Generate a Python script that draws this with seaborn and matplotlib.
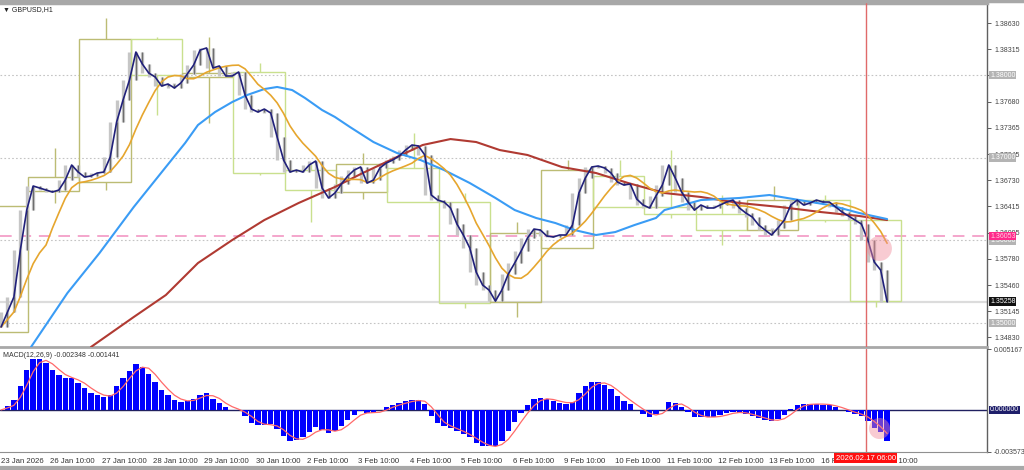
import matplotlib
matplotlib.use("Agg")
import matplotlib.pyplot as plt
from matplotlib.lines import Line2D
from matplotlib.patches import Rectangle
import matplotlib.transforms as mtransforms
import numpy as np
import pandas as pd
import seaborn as sns

sns.set_style("white")
plt.rcParams['font.family'] = ['Liberation Sans', 'DejaVu Sans']

# GBPUSD H1 closes, read every 3rd bar (23 Jan 11:00 -> 17 Feb 17:00)
close = [1.34952, 1.35133, 1.35315, 1.35883, 1.36367, 1.36658, 1.36634, 1.36609, 1.36585, 1.36609,
         1.36730, 1.36912, 1.36827, 1.36767, 1.36779, 1.36815, 1.36827, 1.37009, 1.37432, 1.37698,
         1.37940, 1.38279, 1.38134, 1.38025, 1.37977, 1.37868, 1.37892, 1.37844, 1.37904, 1.38013,
         1.38122, 1.38303, 1.38328, 1.38086, 1.38110, 1.37989, 1.37989, 1.38037, 1.37759, 1.37589,
         1.37553, 1.37589, 1.37541, 1.37251, 1.36972, 1.36827, 1.36851, 1.36827, 1.36912, 1.36960,
         1.36634, 1.36513, 1.36573, 1.36682, 1.36779, 1.36851, 1.36888, 1.36694, 1.36730, 1.36876,
         1.36936, 1.36972, 1.37021, 1.37093, 1.37154, 1.37142, 1.37033, 1.36549, 1.36488, 1.36464,
         1.36392, 1.36198, 1.36065, 1.35908, 1.35617, 1.35460, 1.35399, 1.35266, 1.35399, 1.35593,
         1.35726, 1.35871, 1.36029, 1.36137, 1.36125, 1.36053, 1.36041, 1.36065, 1.36065, 1.36186,
         1.36573, 1.36755, 1.36888, 1.36900, 1.36876, 1.36815, 1.36706, 1.36670, 1.36682, 1.36500,
         1.36428, 1.36392, 1.36537, 1.36670, 1.36912, 1.36755, 1.36585, 1.36464, 1.36367, 1.36428,
         1.36392, 1.36392, 1.36428, 1.36464, 1.36488, 1.36392, 1.36331, 1.36283, 1.36186, 1.36125,
         1.36065, 1.36150, 1.36246, 1.36428, 1.36488, 1.36428, 1.36452, 1.36488, 1.36464, 1.36464,
         1.36404, 1.36343, 1.36295, 1.36246, 1.36198, 1.36004, 1.35738, 1.35641, 1.35258]
step = 3

# daily candles drawn as boxes (23 Jan .. 17 Feb)
day_open = [1.34891, 1.36597, 1.36706, 1.38436, 1.37977, 1.38037, 1.36851, 1.36585, 1.36876,
            1.36464, 1.35254, 1.35908, 1.36779, 1.36404, 1.36319, 1.36125, 1.36488, 1.36246]
day_high = [1.36416, 1.37118, 1.38691, 1.38461, 1.38461, 1.38146, 1.36924, 1.37057, 1.37299,
            1.36573, 1.36222, 1.36972, 1.36972, 1.37094, 1.36549, 1.36658, 1.36549, 1.36246]
day_low = [1.34891, 1.36452, 1.36609, 1.37517, 1.37420, 1.36791, 1.36222, 1.36500, 1.36464,
           1.35182, 1.35073, 1.35908, 1.36404, 1.36271, 1.35944, 1.36101, 1.36222, 1.35194]
day_close = [1.36416, 1.36767, 1.38436, 1.38001, 1.38025, 1.36815, 1.36609, 1.36924, 1.36464,
             1.35242, 1.36089, 1.36851, 1.36404, 1.36319, 1.36125, 1.36488, 1.36246, 1.35266]

# slow moving averages (bar index, price)
ma100_bar = [14, 31, 46, 62, 77, 86, 92, 100, 108, 115, 123, 129, 136, 142, 150, 156, 163, 174, 185, 196,
             207, 219, 231, 240, 250, 259, 268, 278, 287, 296, 306, 310, 327, 345, 359, 373, 387, 401, 414]
ma100_val = [1.34710, 1.35363, 1.35847, 1.36404, 1.36888, 1.37178, 1.37396, 1.37553, 1.37674, 1.37759,
             1.37831, 1.37856, 1.37819, 1.37723, 1.37577, 1.37493, 1.37372, 1.37190, 1.37057, 1.36972,
             1.36851, 1.36694, 1.36513, 1.36367, 1.36271, 1.36210, 1.36125, 1.36065, 1.36101, 1.36186,
             1.36271, 1.36367, 1.36488, 1.36513, 1.36549, 1.36488, 1.36428, 1.36331, 1.36258]
ma200_bar = [42, 62, 77, 92, 108, 123, 139, 156, 169, 185, 197, 210, 222, 233, 246, 262, 278, 293,
             310, 327, 345, 364, 383, 401, 414]
ma200_val = [1.34710, 1.35073, 1.35339, 1.35726, 1.36004, 1.36246, 1.36452, 1.36646, 1.36815, 1.37009,
             1.37154, 1.37226, 1.37190, 1.37093, 1.37033, 1.36888, 1.36815, 1.36694, 1.36573, 1.36525,
             1.36452, 1.36404, 1.36343, 1.36295, 1.36246]

xlabels = ["23 Jan 2026", "26 Jan 10:00", "27 Jan 10:00", "28 Jan 10:00", "29 Jan 10:00",
           "30 Jan 10:00", "2 Feb 10:00", "3 Feb 10:00", "4 Feb 10:00", "5 Feb 10:00",
           "6 Feb 10:00", "9 Feb 10:00", "10 Feb 10:00", "11 Feb 10:00", "12 Feb 10:00",
           "13 Feb 10:00", "16 Feb 10:00", "17 Feb 10:00"]
xticks = [0] + [23 + 24 * k for k in range(17)]
yticks = [1.38630, 1.38315, 1.38000, 1.37680, 1.37365, 1.37045, 1.36730, 1.36415,
          1.36095, 1.35780, 1.35460, 1.35145, 1.34830]
levels = [1.38, 1.37, 1.36, 1.35]
last_price = 1.35258
alert_price = 1.36053
cursor_bar = 404
cursor_label = "2026.02.17 06:00"
macd_text = "MACD(12,26,9) -0.002348 -0.001441"

# ---- derived series ----------------------------------------------------
df = pd.DataFrame({'bar': np.arange(len(close)) * step, 'close': close})
c = df['close']
prev = c.shift(1).fillna(c)
nxt = c.shift(-1).fillna(c)
df['lo'] = np.minimum(np.minimum(prev, c), nxt)
df['hi'] = np.maximum(np.maximum(prev, c), nxt)
df['body_lo'] = np.minimum(prev, c)
df['body_hi'] = np.maximum(prev, c)
df['ma24'] = c.rolling(8, min_periods=1).mean()
a12 = 1 - (1 - 2 / 13) ** step
a26 = 1 - (1 - 2 / 27) ** step
df['macd'] = c.ewm(alpha=a12, adjust=False).mean() - c.ewm(alpha=a26, adjust=False).mean()
df['signal'] = df['macd'].rolling(3, min_periods=1).mean()

# ---- figure ------------------------------------------------------------
fig = plt.figure(figsize=(10.24, 4.7), dpi=100)
ax = fig.add_axes([0, 0.2617, 0.9639, 0.7319])
ax2 = fig.add_axes([0, 0.0383, 0.9639, 0.2191])
xmin, xmax = -0.5, 460.7
ymin, ymax = 1.34710, 1.38872

# levels and horizontal lines
for lv in levels:
    ax.axhline(lv, color='#c4c4c4', lw=0.8, ls=(0, (1.5, 2)), zorder=1)
ax.axhline(alert_price, color='#f4a6cc', lw=1.4, ls=(0, (6, 4)), zorder=1)
ax.axhline(last_price, color='#dcdcdc', lw=1.6, zorder=1)

# daily boxes
for d in range(len(day_open)):
    x0 = 24 * d - 11 - 0.5
    xc = 24 * d + 1
    o, h, l, cl = day_open[d], day_high[d], day_low[d], day_close[d]
    col = '#bcbc74' if cl >= o else '#c9e08e'
    ax.add_patch(Rectangle((x0, min(o, cl)), 24, abs(cl - o), fill=False,
                           edgecolor=col, lw=1.0, zorder=2))
    ax.vlines(xc, max(o, cl), h, color=col, lw=1.0, zorder=2)
    ax.vlines(xc, l, min(o, cl), color=col, lw=1.0, zorder=2)

# price bars
ax.vlines(df['bar'], df['lo'], df['hi'], color='#c6c6c6', lw=2.4, zorder=3)
ax.vlines(df['bar'], df['body_lo'], df['body_hi'], color='#6e6e6e', lw=0.9, zorder=3)

# moving averages
sns.lineplot(x=ma200_bar, y=ma200_val, color='#b03a32', lw=1.5, ax=ax, zorder=4)
sns.lineplot(x=ma100_bar, y=ma100_val, color='#3a9cf5', lw=1.5, ax=ax, zorder=4)
sns.lineplot(data=df, x='bar', y='ma24', color='#e6a62e', lw=1.2, ax=ax, zorder=5)
sns.lineplot(data=df, x='bar', y='close', color='#20207a', lw=1.2, ax=ax, zorder=6)

# cursor and highlight
ax.axvline(cursor_bar, color='#e06a6a', lw=1.0, zorder=7)
ax.scatter([410], [1.35908], s=320, color='#f08c9c', alpha=0.45, lw=0, zorder=8)

ax.set_xlim(xmin, xmax)
ax.set_ylim(ymin, ymax)
ax.set_xticks([])
ax.set_xlabel('')
ax.set_ylabel('')
ax.yaxis.tick_right()
ax.set_yticks(yticks)
# the level boxes already carry 1.38000
ax.set_yticklabels(['' if abs(v - 1.38) < 1e-9 else f"{v:.5f}" for v in yticks])
ax.tick_params(axis='y', length=3, width=0.6, labelsize=5, pad=2, colors='#444444')
ax.spines['left'].set_visible(False)
ax.spines['top'].set_color('#a8a8a8')
ax.spines['top'].set_linewidth(2.5)
ax.spines['bottom'].set_color('#a8a8a8')
ax.spines['bottom'].set_linewidth(2.0)
ax.spines['right'].set_color('#606060')
ax.spines['right'].set_linewidth(1.0)

ytr = ax.get_yaxis_transform()
box = dict(boxstyle='square,pad=0.12', ec='none')
for lv in levels:
    ax.text(1.003, lv, f"{lv:.5f}", transform=ytr, fontsize=5, color='white', va='center', ha='left',
            bbox=dict(box, fc='#b4b4b4'), zorder=10)
ax.text(1.003, alert_price, f"{alert_price:.5f}", transform=ytr, fontsize=5, color='#ffd0e4',
        va='center', ha='left', bbox=dict(box, fc='#ff2a8a'), zorder=11)
ax.text(1.003, last_price, f"{last_price:.5f}", transform=ytr, fontsize=5, color='white',
        va='center', ha='left', bbox=dict(box, fc='#111111'), zorder=11)
ax.text(0.003, 0.99, "\u25bc GBPUSD,H1", transform=ax.transAxes, fontsize=5, color='#222222',
        va='top', ha='left')

# ---- MACD panel --------------------------------------------------------
ax2.axhline(0, color='#202060', lw=1.0, zorder=1)
ax2.bar(df['bar'], df['macd'], width=2.5, color='#0000ff', lw=0, zorder=2)
sns.lineplot(data=df, x='bar', y='signal', color='#ff6a6a', lw=0.9, ax=ax2, zorder=3)
ax2.axvline(cursor_bar, color='#e06a6a', lw=1.0, zorder=4)
ax2.scatter([410], [-0.0015], s=230, color='#f08c9c', alpha=0.45, lw=0, zorder=5)

ax2.set_xlim(xmin, xmax)
ax2.set_ylim(-0.003573, 0.005167)
ax2.set_xlabel('')
ax2.set_ylabel('')
ax2.yaxis.tick_right()
ax2.set_yticks([0.005167, -0.003573])
ax2.set_yticklabels(["0.005167", "-0.003573"])
ax2.tick_params(axis='y', length=3, width=0.6, labelsize=5, pad=2, colors='#444444')
ax2.set_xticks(xticks)
ax2.set_xticklabels(xlabels)
for lab in ax2.get_xticklabels():
    lab.set_ha('left')
ax2.tick_params(axis='x', length=3, width=0.6, labelsize=5.6, pad=1.5, colors='#333333')
ax2.spines['left'].set_visible(False)
ax2.spines['top'].set_visible(False)
ax2.spines['bottom'].set_color('#909090')
ax2.spines['right'].set_color('#606060')
ax2.spines['right'].set_linewidth(1.0)

ytr2 = ax2.get_yaxis_transform()
ax2.text(1.003, 0, "0.000000", transform=ytr2, fontsize=5, color='white', va='center', ha='left',
         bbox=dict(box, fc='#1e1e6a'), zorder=10)
ax2.text(0.003, 0.97, macd_text, transform=ax2.transAxes, fontsize=5, color='#333333',
         va='top', ha='left')
xtr = mtransforms.blended_transform_factory(ax2.transData, ax2.transAxes)
ax2.text(cursor_bar, -0.025, cursor_label, transform=xtr, fontsize=5.6, color='white',
         va='top', ha='center', bbox=dict(boxstyle='square,pad=0.15', fc='#ff1010', ec='none'),
         zorder=20, clip_on=False)

fig.add_artist(Line2D([0, 1], [0.997, 0.997], transform=fig.transFigure, color='#a8a8a8', lw=2.5))
fig.add_artist(Line2D([0, 1], [0.004, 0.004], transform=fig.transFigure, color='#a8a8a8', lw=3))

fig.savefig('out.png', dpi=100)
